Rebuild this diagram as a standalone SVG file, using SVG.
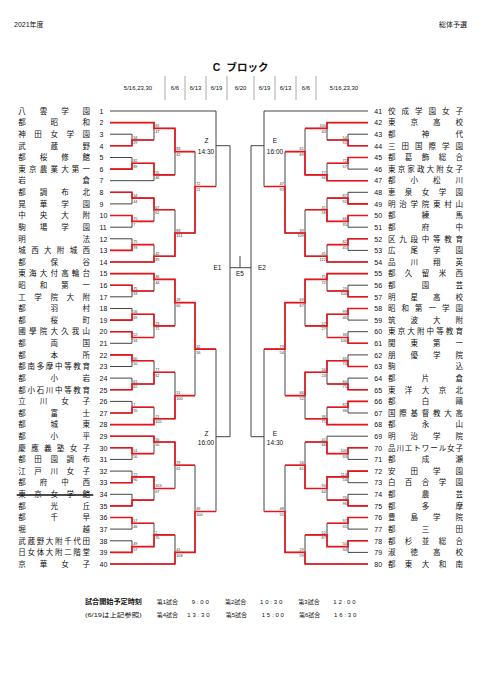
<svg xmlns="http://www.w3.org/2000/svg" width="481" height="680" viewBox="0 0 481 680">
<style>
text{font-family:"Liberation Sans","Noto Sans CJK JP",sans-serif;fill:#111}
.n{font-size:7.5px;text-anchor:middle}
.no{font-size:7px}
.s{font-size:3.8px;fill:#333}
.sr{font-size:3.8px;fill:#333;text-anchor:end}
.lb{font-size:6.5px;text-anchor:middle}
.d{font-size:6px;text-anchor:middle}
.f{font-size:6px}
.t{font-size:6px;letter-spacing:1.8px}
.g{stroke:#444;stroke-width:1;fill:none}
.r{stroke:#e8141c;stroke-width:1.6;fill:none}
.dv{stroke:#888;stroke-width:0.7}
</style>
<rect width="481" height="680" fill="#fff"/>
<g id="header">
<text x="14" y="26.5" style="font-size:7px">2021年度</text>
<text x="467" y="26.5" style="font-size:7px;text-anchor:end">総体予選</text>
<text x="216.5" y="71" style="font-size:10.5px;font-weight:bold;text-anchor:middle">C</text>
<text x="247.5" y="71" style="font-size:10.5px;font-weight:bold;text-anchor:middle">ブロック</text>
<path class="dv" d="M165 76V100M185 76V100M206 76V100M227 76V100M254 76V100M275 76V100M296 76V100M316 76V100"/>
<text class="d" x="138" y="90.3">5/16,23,30</text>
<text class="d" x="175" y="90.3">6/6</text>
<text class="d" x="195.5" y="90.3">6/13</text>
<text class="d" x="216.5" y="90.3">6/19</text>
<text class="d" x="240.5" y="90.3">6/20</text>
<text class="d" x="264.5" y="90.3">6/19</text>
<text class="d" x="285.5" y="90.3">6/13</text>
<text class="d" x="306" y="90.3">6/6</text>
<text class="d" x="344" y="90.3">5/16,23,30</text>
</g>
<g id="connectors">
<path class="g" d="M110 111H216M110 122.6H154M110 134.2H132M110 145.8H132M110 157.5H132M110 169.1H132M110 180.7H154M110 192.3H132M110 203.9H132M110 215.5H132M110 227.2H132M110 238.8H132M110 250.4H132M110 262H154M110 273.6H154M110 285.2H132M110 296.8H132M110 308.5H132M110 320.1H132M110 331.7H132M110 343.3H132M110 354.9H132M110 366.5H132M110 378.1H132M110 389.8H132M110 401.4H132M110 413H132M110 424.6H154M110 436.2H154M110 447.8H132M110 459.4H132M110 471.1H132M110 482.7H132M110 494.3H132M110 505.9H132M110 517.5H132M110 529.1H132M110 540.8H132M110 552.4H132M110 564H175"/>
<path class="g" d="M132 134.2V145.8M132 140H154M154 122.6V140M154 128.4H175M132 157.5V169.1M132 163.3H154M154 163.3V180.7M154 174.9H175M175 128.4V174.9M175 151.6H195M132 192.3V203.9M132 198.1H154M132 215.5V227.2M132 221.4H154M154 198.1V221.4M154 209.7H175M132 238.8V250.4M132 244.6H154M154 244.6V262M154 256.2H175M175 209.7V256.2M175 233H195M195 151.6V233M195 186.5H216M216 111V186.5M216 145.7H230M132 285.2V296.8M132 291H154M154 273.6V291M154 279.4H175M132 308.5V320.1M132 314.3H154M132 331.7V343.3M132 337.5H154M154 314.3V337.5M154 325.9H175M175 279.4V325.9M175 302.6H195M132 354.9V366.5M132 360.7H154M132 378.1V389.8M132 384H154M154 360.7V384M154 372.3H175M132 401.4V413M132 407.2H154M154 407.2V424.6M154 418.8H175M175 372.3V418.8M175 395.6H195M195 302.6V395.6M195 349.1H216M132 447.8V459.4M132 453.6H154M154 436.2V453.6M154 442H175M132 471.1V482.7M132 476.9H154M132 494.3V505.9M132 500.1H154M154 476.9V500.1M154 488.5H175M175 442V488.5M175 465.2H195M132 517.5V529.1M132 523.3H154M132 540.8V552.4M132 546.6H154M154 523.3V546.6M154 534.9H175M175 534.9V564M175 552.4H195M195 465.2V552.4M195 511.5H216M216 349.1V511.5M216 436.7H230"/>
<path class="g" d="M230 145.7V436.7M251 145.7V436.7M230 267.7H251M240 256V267.7"/>
<path class="g" d="M368 111H264M368 122.6H327M368 134.2H348M368 145.8H348M368 157.5H348M368 169.1H348M368 180.7H327M368 192.3H348M368 203.9H348M368 215.5H348M368 227.2H348M368 238.8H348M368 250.4H348M368 262H327M368 273.6H327M368 285.2H348M368 296.8H348M368 308.5H348M368 320.1H348M368 331.7H348M368 343.3H348M368 354.9H348M368 366.5H348M368 378.1H348M368 389.8H348M368 401.4H348M368 413H348M368 424.6H327M368 436.2H327M368 447.8H348M368 459.4H348M368 471.1H348M368 482.7H348M368 494.3H348M368 505.9H348M368 517.5H348M368 529.1H348M368 540.8H348M368 552.4H348M368 564H305"/>
<path class="g" d="M348 134.2V145.8M348 140H327M327 122.6V140M327 128.4H305M348 157.5V169.1M348 163.3H327M327 163.3V180.7M327 174.9H305M305 128.4V174.9M305 151.6H285M348 192.3V203.9M348 198.1H327M348 215.5V227.2M348 221.4H327M327 198.1V221.4M327 209.7H305M348 238.8V250.4M348 244.6H327M327 244.6V262M327 256.2H305M305 209.7V256.2M305 233H285M285 151.6V233M285 186.5H264M264 111V186.5M264 145.7H251M348 285.2V296.8M348 291H327M327 273.6V291M327 279.4H305M348 308.5V320.1M348 314.3H327M348 331.7V343.3M348 337.5H327M327 314.3V337.5M327 325.9H305M305 279.4V325.9M305 302.6H285M348 354.9V366.5M348 360.7H327M348 378.1V389.8M348 384H327M327 360.7V384M327 372.3H305M348 401.4V413M348 407.2H327M327 407.2V424.6M327 418.8H305M305 372.3V418.8M305 395.6H285M285 302.6V395.6M285 349.1H264M348 447.8V459.4M348 453.6H327M327 436.2V453.6M327 442H305M348 471.1V482.7M348 476.9H327M348 494.3V505.9M348 500.1H327M327 476.9V500.1M327 488.5H305M305 442V488.5M305 465.2H285M348 517.5V529.1M348 523.3H327M348 540.8V552.4M348 546.6H327M327 523.3V546.6M327 534.9H305M305 534.9V564M305 552.4H285M285 465.2V552.4M285 511.5H264M264 349.1V511.5M264 436.7H251"/>
<path class="r" d="M110 122.6H154V128.4H175V151.6H195M110 145.8H132V140H154M110 169.1H132V163.3H154V174.9H175M110 192.3H132V198.1H154V209.7H175M110 215.5H132V221.4H154M110 250.4H132V244.6H154M110 262H154V256.2H175V233H195V186.5H216M110 273.6H154V279.4H175V302.6H195V349.1H216M110 285.2H132V291H154M110 320.1H132V314.3H154V325.9H175M110 331.7H132V337.5H154M110 354.9H132V360.7H154M110 389.8H132V384H154V372.3H175M110 413H132V407.2H154M110 424.6H154V418.8H175V395.6H195M110 436.2H154V442H175V465.2H195M110 447.8H132V453.6H154M110 482.7H132V476.9H154V488.5H175M110 505.9H132V500.1H154M110 517.5H132V523.3H154M110 552.4H132V546.6H154V534.9H175M110 564H175V552.4H195V511.5H216"/>
<path class="r" d="M368 122.6H327V128.4H305M368 145.8H348V140H327M368 157.5H348V163.3H327M368 180.7H327V174.9H305V151.6H285M368 203.9H348V198.1H327M368 215.5H348V221.4H327V209.7H305M368 238.8H348V244.6H327M368 262H327V256.2H305V233H285V186.5H264M368 273.6H327V279.4H305V302.6H285V349.1H264M368 296.8H348V291H327M368 308.5H348V314.3H327V325.9H305M368 343.3H348V337.5H327M368 366.5H348V360.7H327V372.3H305V395.6H285M368 389.8H348V384H327M368 401.4H348V407.2H327M368 424.6H327V418.8H305M368 447.8H348V453.6H327V442H305M368 471.1H348V476.9H327V488.5H305V465.2H285M368 505.9H348V500.1H327M368 517.5H348V523.3H327M368 540.8H348V546.6H327V534.9H305M368 564H305V552.4H285V511.5H264"/>
</g>
<g id="rounds">
<text class="lb" x="206.5" y="143">Z</text><text class="lb" x="206" y="153.5">14:30</text>
<text class="lb" x="206.5" y="435.8">Z</text><text class="lb" x="206" y="444.5">16:00</text>
<text class="lb" x="275" y="143">E</text><text class="lb" x="275" y="153.5">16:00</text>
<text class="lb" x="275" y="435.8">E</text><text class="lb" x="275" y="444.5">14:30</text>
<text class="lb" x="217.5" y="270">E1</text>
<text class="lb" x="262" y="270">E2</text>
<text class="lb" x="240" y="276">E5</text>
</g>
<g id="scores">
<text class="s" x="133.2" y="138.8">34</text><text class="s" x="133.2" y="144.4">29</text>
<text class="s" x="155.2" y="127.2">65</text><text class="s" x="155.2" y="132.8">47</text>
<text class="s" x="133.2" y="162.1">82</text><text class="s" x="133.2" y="167.7">89</text>
<text class="s" x="155.2" y="173.7">55</text><text class="s" x="155.2" y="179.3">46</text>
<text class="s" x="176.2" y="150.4">83</text><text class="s" x="176.2" y="156">42</text>
<text class="s" x="133.2" y="196.9">34</text><text class="s" x="133.2" y="202.5">44</text>
<text class="s" x="133.2" y="220.2">75</text><text class="s" x="133.2" y="225.8">7</text>
<text class="s" x="155.2" y="208.5">67</text><text class="s" x="155.2" y="214.1">62</text>
<text class="s" x="133.2" y="243.4">75</text><text class="s" x="133.2" y="249">78</text>
<text class="s" x="155.2" y="255">42</text><text class="s" x="155.2" y="260.6">89</text>
<text class="s" x="176.2" y="231.8">83</text><text class="s" x="176.2" y="237.4">114</text>
<text class="s" x="196.2" y="185.3">72</text><text class="s" x="196.2" y="190.9">21</text>
<text class="s" x="133.2" y="289.8">75</text><text class="s" x="133.2" y="295.4">33</text>
<text class="s" x="155.2" y="278.2">36</text><text class="s" x="155.2" y="283.8">44</text>
<text class="s" x="133.2" y="313.1">56</text><text class="s" x="133.2" y="318.7">69</text>
<text class="s" x="133.2" y="336.3">52</text><text class="s" x="133.2" y="341.9">34</text>
<text class="s" x="155.2" y="324.7">23</text><text class="s" x="155.2" y="330.3">71</text>
<text class="s" x="176.2" y="301.4">28</text><text class="s" x="176.2" y="307">60</text>
<text class="s" x="133.2" y="359.5">60</text><text class="s" x="133.2" y="365.1">50</text>
<text class="s" x="133.2" y="382.8">61</text><text class="s" x="133.2" y="388.4">62</text>
<text class="s" x="155.2" y="371.1">77</text><text class="s" x="155.2" y="376.7">62</text>
<text class="s" x="133.2" y="406">7</text><text class="s" x="133.2" y="411.6">70</text>
<text class="s" x="155.2" y="417.6">21</text><text class="s" x="155.2" y="423.2">105</text>
<text class="s" x="176.2" y="394.4">51</text><text class="s" x="176.2" y="400">100</text>
<text class="s" x="196.2" y="347.9">32</text><text class="s" x="196.2" y="353.5">56</text>
<text class="s" x="133.2" y="452.4">51</text><text class="s" x="133.2" y="458">50</text>
<text class="s" x="155.2" y="440.8">56</text><text class="s" x="155.2" y="446.4">50</text>
<text class="s" x="133.2" y="475.7">72</text><text class="s" x="133.2" y="481.3">90</text>
<text class="s" x="155.2" y="487.3">103</text><text class="s" x="155.2" y="492.9">67</text>
<text class="s" x="176.2" y="464">79</text><text class="s" x="176.2" y="469.6">61</text>
<text class="s" x="133.2" y="522.1">57</text><text class="s" x="133.2" y="527.7">46</text>
<text class="s" x="133.2" y="545.4">49</text><text class="s" x="133.2" y="551">57</text>
<text class="s" x="155.2" y="533.7">2</text><text class="s" x="155.2" y="539.3">70</text>
<text class="s" x="176.2" y="551.2">41</text><text class="s" x="176.2" y="556.8">108</text>
<text class="s" x="196.2" y="510.3">49</text><text class="s" x="196.2" y="515.9">100</text>
<text class="sr" x="346.8" y="138.8">54</text><text class="sr" x="346.8" y="144.4">92</text>
<text class="sr" x="325.8" y="127.2">100</text><text class="sr" x="325.8" y="132.8">43</text>
<text class="sr" x="346.8" y="162.1">72</text><text class="sr" x="346.8" y="167.7">57</text>
<text class="sr" x="325.8" y="173.7">77</text><text class="sr" x="325.8" y="179.3">96</text>
<text class="sr" x="303.8" y="150.4">61</text><text class="sr" x="303.8" y="156">69</text>
<text class="sr" x="346.8" y="196.9">87</text><text class="sr" x="346.8" y="202.5">92</text>
<text class="sr" x="346.8" y="220.2">66</text><text class="sr" x="346.8" y="225.8">35</text>
<text class="sr" x="325.8" y="208.5">41</text><text class="sr" x="325.8" y="214.1">56</text>
<text class="sr" x="346.8" y="243.4">82</text><text class="sr" x="346.8" y="249">45</text>
<text class="sr" x="325.8" y="255">45</text><text class="sr" x="325.8" y="260.6">122</text>
<text class="sr" x="303.8" y="231.8">39</text><text class="sr" x="303.8" y="237.4">109</text>
<text class="sr" x="283.8" y="185.3">47</text><text class="sr" x="283.8" y="190.9">93</text>
<text class="sr" x="346.8" y="289.8">29</text><text class="sr" x="346.8" y="295.4">104</text>
<text class="sr" x="325.8" y="278.2">75</text><text class="sr" x="325.8" y="283.8">72</text>
<text class="sr" x="346.8" y="313.1">99</text><text class="sr" x="346.8" y="318.7">46</text>
<text class="sr" x="346.8" y="336.3">36</text><text class="sr" x="346.8" y="341.9">106</text>
<text class="sr" x="325.8" y="324.7">57</text><text class="sr" x="325.8" y="330.3">27</text>
<text class="sr" x="303.8" y="301.4">69</text><text class="sr" x="303.8" y="307">67</text>
<text class="sr" x="346.8" y="359.5">66</text><text class="sr" x="346.8" y="365.1">74</text>
<text class="sr" x="346.8" y="382.8">60</text><text class="sr" x="346.8" y="388.4">75</text>
<text class="sr" x="325.8" y="371.1">56</text><text class="sr" x="325.8" y="376.7">24</text>
<text class="sr" x="346.8" y="406">82</text><text class="sr" x="346.8" y="411.6">36</text>
<text class="sr" x="325.8" y="417.6">36</text><text class="sr" x="325.8" y="423.2">75</text>
<text class="sr" x="303.8" y="394.4">66</text><text class="sr" x="303.8" y="400">52</text>
<text class="sr" x="283.8" y="347.9">79</text><text class="sr" x="283.8" y="353.5">54</text>
<text class="sr" x="346.8" y="452.4">106</text><text class="sr" x="346.8" y="458">33</text>
<text class="sr" x="325.8" y="440.8">41</text><text class="sr" x="325.8" y="446.4">46</text>
<text class="sr" x="346.8" y="475.7">114</text><text class="sr" x="346.8" y="481.3">54</text>
<text class="sr" x="346.8" y="498.9">76</text><text class="sr" x="346.8" y="504.5">96</text>
<text class="sr" x="325.8" y="487.3">90</text><text class="sr" x="325.8" y="492.9">64</text>
<text class="sr" x="303.8" y="464">56</text><text class="sr" x="303.8" y="469.6">61</text>
<text class="sr" x="346.8" y="522.1">97</text><text class="sr" x="346.8" y="527.7">55</text>
<text class="sr" x="346.8" y="545.4">50</text><text class="sr" x="346.8" y="551">34</text>
<text class="sr" x="325.8" y="533.7">52</text><text class="sr" x="325.8" y="539.3">87</text>
<text class="sr" x="303.8" y="551.2">29</text><text class="sr" x="303.8" y="556.8">59</text>
<text class="sr" x="283.8" y="510.3">48</text><text class="sr" x="283.8" y="515.9">55</text>
</g>
<g id="t1"><text class="no" x="99.5" y="113.7">1</text><text class="n" x="22 43.4 64.9 86.3" y="113.7">八雲学園</text></g>
<g id="t2"><text class="no" x="99.5" y="125.3">2</text><text class="n" x="22 54.2 86.3" y="125.3">都昭和</text></g>
<g id="t3"><text class="no" x="99.5" y="136.9">3</text><text class="n" x="22 38.1 54.2 70.2 86.3" y="136.9">神田女学園</text></g>
<g id="t4"><text class="no" x="99.5" y="148.5">4</text><text class="n" x="22 54.2 86.3" y="148.5">武蔵野</text></g>
<g id="t5"><text class="no" x="99.5" y="160.2">5</text><text class="n" x="22 43.4 64.9 86.3" y="160.2">都桜修館</text></g>
<g id="t6"><text class="no" x="99.5" y="171.8">6</text><text class="n" x="22 32.7 43.4 54.2 64.9 75.6 86.3" y="171.8">東京農業大第一</text></g>
<g id="t7"><text class="no" x="99.5" y="183.4">7</text><text class="n" x="22 86.3" y="183.4">岩倉</text></g>
<g id="t8"><text class="no" x="99.5" y="195">8</text><text class="n" x="22 43.4 64.9 86.3" y="195">都調布北</text></g>
<g id="t9"><text class="no" x="99.5" y="206.6">9</text><text class="n" x="22 43.4 64.9 86.3" y="206.6">晃華学園</text></g>
<g id="t10"><text class="no" x="99.5" y="218.2">10</text><text class="n" x="22 43.4 64.9 86.3" y="218.2">中央大附</text></g>
<g id="t11"><text class="no" x="99.5" y="229.9">11</text><text class="n" x="22 43.4 64.9 86.3" y="229.9">駒場学園</text></g>
<g id="t12"><text class="no" x="99.5" y="241.5">12</text><text class="n" x="22 86.3" y="241.5">明法</text></g>
<g id="t13"><text class="no" x="99.5" y="253.1">13</text><text class="n" x="22 34.9 47.7 60.6 73.4 86.3" y="253.1">城西大附城西</text></g>
<g id="t14"><text class="no" x="99.5" y="264.7">14</text><text class="n" x="22 54.2 86.3" y="264.7">都保谷</text></g>
<g id="t15"><text class="no" x="99.5" y="276.3">15</text><text class="n" x="22 32.7 43.4 54.2 64.9 75.6 86.3" y="276.3">東海大付高輪台</text></g>
<g id="t16"><text class="no" x="99.5" y="287.9">16</text><text class="n" x="22 43.4 64.9 86.3" y="287.9">昭和第一</text></g>
<g id="t17"><text class="no" x="99.5" y="299.5">17</text><text class="n" x="22 38.1 54.2 70.2 86.3" y="299.5">工学院大附</text></g>
<g id="t18"><text class="no" x="99.5" y="311.2">18</text><text class="n" x="22 54.2 86.3" y="311.2">都羽村</text></g>
<g id="t19"><text class="no" x="99.5" y="322.8">19</text><text class="n" x="22 54.2 86.3" y="322.8">都桜町</text></g>
<g id="t20"><text class="no" x="99.5" y="334.4">20</text><text class="n" x="22 32.7 43.4 54.2 64.9 75.6 86.3" y="334.4">國學院大久我山</text></g>
<g id="t21"><text class="no" x="99.5" y="346">21</text><text class="n" x="22 54.2 86.3" y="346">都両国</text></g>
<g id="t22"><text class="no" x="99.5" y="357.6">22</text><text class="n" x="22 54.2 86.3" y="357.6">都本所</text></g>
<g id="t23"><text class="no" x="99.5" y="369.2">23</text><text class="n" x="22 31.2 40.4 49.6 58.7 67.9 77.1 86.3" y="369.2">都南多摩中等教育</text></g>
<g id="t24"><text class="no" x="99.5" y="380.8">24</text><text class="n" x="22 54.2 86.3" y="380.8">都小岩</text></g>
<g id="t25"><text class="no" x="99.5" y="392.5">25</text><text class="n" x="22 31.2 40.4 49.6 58.7 67.9 77.1 86.3" y="392.5">都小石川中等教育</text></g>
<g id="t26"><text class="no" x="99.5" y="404.1">26</text><text class="n" x="22 43.4 64.9 86.3" y="404.1">立川女子</text></g>
<g id="t27"><text class="no" x="99.5" y="415.7">27</text><text class="n" x="22 54.2 86.3" y="415.7">都富士</text></g>
<g id="t28"><text class="no" x="99.5" y="427.3">28</text><text class="n" x="22 54.2 86.3" y="427.3">都城東</text></g>
<g id="t29"><text class="no" x="99.5" y="438.9">29</text><text class="n" x="22 54.2 86.3" y="438.9">都小平</text></g>
<g id="t30"><text class="no" x="99.5" y="450.5">30</text><text class="n" x="22 34.9 47.7 60.6 73.4 86.3" y="450.5">慶應義塾女子</text></g>
<g id="t31"><text class="no" x="99.5" y="462.1">31</text><text class="n" x="22 38.1 54.2 70.2 86.3" y="462.1">都田園調布</text></g>
<g id="t32"><text class="no" x="99.5" y="473.8">32</text><text class="n" x="22 38.1 54.2 70.2 86.3" y="473.8">江戸川女子</text></g>
<g id="t33"><text class="no" x="99.5" y="485.4">33</text><text class="n" x="22 43.4 64.9 86.3" y="485.4">都府中西</text></g>
<g id="t34"><text class="no" x="99.5" y="497">34</text><text class="n" x="22 38.1 54.2 70.2 86.3" y="497">東京女学館</text><path d="M16.7 495H93.3" stroke="#111" stroke-width="1.3"/></g>
<g id="t35"><text class="no" x="99.5" y="508.6">35</text><text class="n" x="22 54.2 86.3" y="508.6">都光丘</text></g>
<g id="t36"><text class="no" x="99.5" y="520.2">36</text><text class="n" x="22 54.2 86.3" y="520.2">都千早</text></g>
<g id="t37"><text class="no" x="99.5" y="531.8">37</text><text class="n" x="22 86.3" y="531.8">堀越</text></g>
<g id="t38"><text class="no" x="99.5" y="543.5">38</text><text class="n" x="22 31.2 40.4 49.6 58.7 67.9 77.1 86.3" y="543.5">武蔵野大附千代田</text></g>
<g id="t39"><text class="no" x="99.5" y="555.1">39</text><text class="n" x="22 31.2 40.4 49.6 58.7 67.9 77.1 86.3" y="555.1">日女体大附二階堂</text></g>
<g id="t40"><text class="no" x="99.5" y="566.7">40</text><text class="n" x="22 43.4 64.9 86.3" y="566.7">京華女子</text></g>
<g id="t41"><text class="no" x="374.3" y="113.7">41</text><text class="n" x="391.8 405.3 418.8 432.3 445.8 459.3" y="113.7">佼成学園女子</text></g>
<g id="t42"><text class="no" x="374.3" y="125.3">42</text><text class="n" x="391.8 414.3 436.8 459.3" y="125.3">東京高校</text></g>
<g id="t43"><text class="no" x="374.3" y="136.9">43</text><text class="n" x="391.8 425.5 459.3" y="136.9">都神代</text></g>
<g id="t44"><text class="no" x="374.3" y="148.5">44</text><text class="n" x="391.8 405.3 418.8 432.3 445.8 459.3" y="148.5">三田国際学園</text></g>
<g id="t45"><text class="no" x="374.3" y="160.2">45</text><text class="n" x="391.8 408.6 425.5 442.4 459.3" y="160.2">都葛飾総合</text></g>
<g id="t46"><text class="no" x="374.3" y="171.8">46</text><text class="n" x="391.8 401.4 411 420.7 430.3 440 449.6 459.3" y="171.8">東京家政大附女子</text></g>
<g id="t47"><text class="no" x="374.3" y="183.4">47</text><text class="n" x="391.8 414.3 436.8 459.3" y="183.4">都小松川</text></g>
<g id="t48"><text class="no" x="374.3" y="195">48</text><text class="n" x="391.8 408.6 425.5 442.4 459.3" y="195">恵泉女学園</text></g>
<g id="t49"><text class="no" x="374.3" y="206.6">49</text><text class="n" x="391.8 403 414.3 425.5 436.8 448 459.3" y="206.6">明治学院東村山</text></g>
<g id="t50"><text class="no" x="374.3" y="218.2">50</text><text class="n" x="391.8 425.5 459.3" y="218.2">都練馬</text></g>
<g id="t51"><text class="no" x="374.3" y="229.9">51</text><text class="n" x="391.8 425.5 459.3" y="229.9">都府中</text></g>
<g id="t52"><text class="no" x="374.3" y="241.5">52</text><text class="n" x="391.8 403 414.3 425.5 436.8 448 459.3" y="241.5">区九段中等教育</text></g>
<g id="t53"><text class="no" x="374.3" y="253.1">53</text><text class="n" x="391.8 414.3 436.8 459.3" y="253.1">広尾学園</text></g>
<g id="t54"><text class="no" x="374.3" y="264.7">54</text><text class="n" x="391.8 414.3 436.8 459.3" y="264.7">品川翔英</text></g>
<g id="t55"><text class="no" x="374.3" y="276.3">55</text><text class="n" x="391.8 408.6 425.5 442.4 459.3" y="276.3">都久留米西</text></g>
<g id="t56"><text class="no" x="374.3" y="287.9">56</text><text class="n" x="391.8 425.5 459.3" y="287.9">都園芸</text></g>
<g id="t57"><text class="no" x="374.3" y="299.5">57</text><text class="n" x="391.8 414.3 436.8 459.3" y="299.5">明星高校</text></g>
<g id="t58"><text class="no" x="374.3" y="311.2">58</text><text class="n" x="391.8 405.3 418.8 432.3 445.8 459.3" y="311.2">昭和第一学園</text></g>
<g id="t59"><text class="no" x="374.3" y="322.8">59</text><text class="n" x="391.8 414.3 436.8 459.3" y="322.8">筑波大附</text></g>
<g id="t60"><text class="no" x="374.3" y="334.4">60</text><text class="n" x="391.8 401.4 411 420.7 430.3 440 449.6 459.3" y="334.4">東京大附中等教育</text></g>
<g id="t61"><text class="no" x="374.3" y="346">61</text><text class="n" x="391.8 414.3 436.8 459.3" y="346">関東第一</text></g>
<g id="t62"><text class="no" x="374.3" y="357.6">62</text><text class="n" x="391.8 414.3 436.8 459.3" y="357.6">朋優学院</text></g>
<g id="t63"><text class="no" x="374.3" y="369.2">63</text><text class="n" x="391.8 459.3" y="369.2">駒込</text></g>
<g id="t64"><text class="no" x="374.3" y="380.8">64</text><text class="n" x="391.8 425.5 459.3" y="380.8">都片倉</text></g>
<g id="t65"><text class="no" x="374.3" y="392.5">65</text><text class="n" x="391.8 408.6 425.5 442.4 459.3" y="392.5">東洋大京北</text></g>
<g id="t66"><text class="no" x="374.3" y="404.1">66</text><text class="n" x="391.8 425.5 459.3" y="404.1">都白鷗</text></g>
<g id="t67"><text class="no" x="374.3" y="415.7">67</text><text class="n" x="391.8 403 414.3 425.5 436.8 448 459.3" y="415.7">国際基督教大高</text></g>
<g id="t68"><text class="no" x="374.3" y="427.3">68</text><text class="n" x="391.8 425.5 459.3" y="427.3">都永山</text></g>
<g id="t69"><text class="no" x="374.3" y="438.9">69</text><text class="n" x="391.8 414.3 436.8 459.3" y="438.9">明治学院</text></g>
<g id="t70"><text class="no" x="374.3" y="450.5">70</text><text class="n" x="391.8 400.2 408.6 417.1 425.5 433.9 442.4 450.8 459.3" y="450.5">品川エトワール女子</text></g>
<g id="t71"><text class="no" x="374.3" y="462.1">71</text><text class="n" x="391.8 425.5 459.3" y="462.1">都成瀬</text></g>
<g id="t72"><text class="no" x="374.3" y="473.8">72</text><text class="n" x="391.8 414.3 436.8 459.3" y="473.8">安田学園</text></g>
<g id="t73"><text class="no" x="374.3" y="485.4">73</text><text class="n" x="391.8 408.6 425.5 442.4 459.3" y="485.4">白百合学園</text></g>
<g id="t74"><text class="no" x="374.3" y="497">74</text><text class="n" x="391.8 425.5 459.3" y="497">都農芸</text></g>
<g id="t75"><text class="no" x="374.3" y="508.6">75</text><text class="n" x="391.8 425.5 459.3" y="508.6">都多摩</text></g>
<g id="t76"><text class="no" x="374.3" y="520.2">76</text><text class="n" x="391.8 414.3 436.8 459.3" y="520.2">豊島学院</text></g>
<g id="t77"><text class="no" x="374.3" y="531.8">77</text><text class="n" x="391.8 425.5 459.3" y="531.8">都三田</text></g>
<g id="t78"><text class="no" x="374.3" y="543.5">78</text><text class="n" x="391.8 408.6 425.5 442.4 459.3" y="543.5">都杉並総合</text></g>
<g id="t79"><text class="no" x="374.3" y="555.1">79</text><text class="n" x="391.8 414.3 436.8 459.3" y="555.1">淑徳高校</text></g>
<g id="t80"><text class="no" x="374.3" y="566.7">80</text><text class="n" x="391.8 408.6 425.5 442.4 459.3" y="566.7">都東大和南</text></g>
<g id="footer">
<text x="85" y="604" style="font-size:7px;font-weight:bold" textLength="57" lengthAdjust="spacingAndGlyphs">試合開始予定時刻</text>
<text class="f" x="156.7" y="604">第1試合</text><text class="t" x="191.7" y="604">9:00</text>
<text class="f" x="225" y="604">第2試合</text><text class="t" x="260" y="604">10:30</text>
<text class="f" x="298.3" y="604">第3試合</text><text class="t" x="333.3" y="604">12:00</text>
<text class="f" x="85" y="616.8" textLength="56.7" lengthAdjust="spacingAndGlyphs">(6/19は上記参照)</text>
<text class="f" x="156.7" y="616.8">第4試合</text><text class="t" x="187.3" y="616.8">13:30</text>
<text class="f" x="225.7" y="616.8">第5試合</text><text class="t" x="261.7" y="616.8">15:00</text>
<text class="f" x="299" y="616.8">第6試合</text><text class="t" x="334" y="616.8">16:30</text>
</g>
</svg>
